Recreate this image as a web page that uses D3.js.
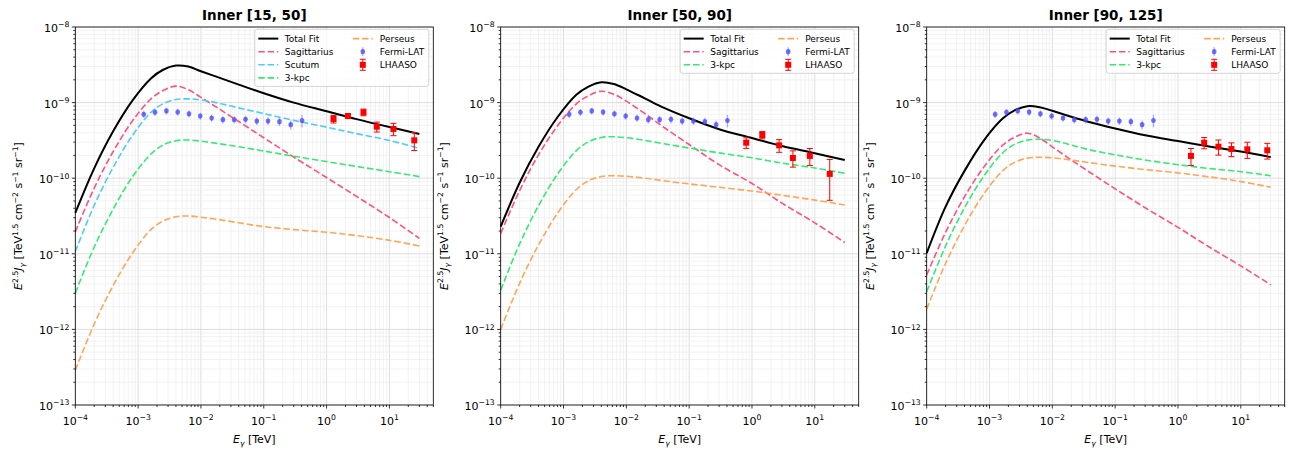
<!DOCTYPE html>
<html><head><meta charset="utf-8">
<script src="https://cdn.jsdelivr.net/npm/d3@7"></script>
<style>body{margin:0;background:#fff} svg{display:block} text{font-family:"DejaVu Sans",sans-serif;fill:#000}</style>
</head><body><svg id="c" width="1295" height="455"></svg>
<script>
// ---------------- DATA ----------------
const panelTitles = ["Inner [15, 50]", "Inner [50, 90]", "Inner [90, 125]"];
const xTickExps = [-4, -3, -2, -1, 0, 1];
const yTickExps = [-13, -12, -11, -10, -9, -8];

// model energy grid [TeV]
const modelEnergy = [1e-4, 2e-4, 4e-4, 8e-4, 1.6e-3, 2.5e-3, 4e-3, 6.3e-3, 1e-2, 2e-2, 4e-2, 0.1, 0.3, 1, 3, 10, 30];

// Panel 1 : Inner [15, 50]
const p1Total    = [3.47e-11, 1.35e-10, 4.17e-10, 1.047e-9, 2.09e-9, 2.72e-9, 3.09e-9, 3.0e-9, 2.60e-9, 2.12e-9, 1.73e-9, 1.33e-9, 1.0e-9, 7.7e-10, 6.05e-10, 4.75e-10, 3.85e-10];
const p1Sgr      = [1.95e-11, 7.41e-11, 2.24e-10, 5.62e-10, 1.12e-9, 1.445e-9, 1.65e-9, 1.48e-9, 1.175e-9, 8.13e-10, 5.62e-10, 3.43e-10, 1.905e-10, 1.02e-10, 5.75e-11, 3.02e-11, 1.60e-11];
const p1Scutum   = [1.07e-11, 4.37e-11, 1.39e-10, 3.61e-10, 7.41e-10, 9.66e-10, 1.10e-9, 1.12e-9, 1.084e-9, 9.77e-10, 8.51e-10, 7.16e-10, 5.82e-10, 4.73e-10, 3.89e-10, 3.16e-10, 2.48e-10];
const p1Kpc      = [3.02e-12, 1.23e-11, 3.89e-11, 1.023e-10, 2.09e-10, 2.75e-10, 3.13e-10, 3.20e-10, 3.09e-10, 2.85e-10, 2.60e-10, 2.29e-10, 1.95e-10, 1.66e-10, 1.43e-10, 1.22e-10, 1.05e-10];
const p1Perseus  = [2.88e-13, 1.175e-12, 3.80e-12, 1.0e-11, 2.09e-11, 2.71e-11, 3.09e-11, 3.16e-11, 3.05e-11, 2.82e-11, 2.57e-11, 2.29e-11, 2.09e-11, 1.93e-11, 1.74e-11, 1.51e-11, 1.27e-11];

// Panel 2 : Inner [50, 90]
const p2Total    = [2.29e-11, 8.7e-11, 2.6e-10, 6.4e-10, 1.27e-9, 1.63e-9, 1.86e-9, 1.76e-9, 1.5e-9, 1.13e-9, 8.5e-10, 6.2e-10, 4.45e-10, 3.4e-10, 2.66e-10, 2.14e-10, 1.74e-10];
const p2Sgr      = [1.86e-11, 6.84e-11, 2.04e-10, 4.90e-10, 9.64e-10, 1.233e-9, 1.413e-9, 1.288e-9, 1.047e-9, 7.08e-10, 4.68e-10, 2.79e-10, 1.51e-10, 8.51e-11, 4.68e-11, 2.57e-11, 1.41e-11];
const p2Kpc      = [3.31e-12, 1.35e-11, 4.33e-11, 1.127e-10, 2.32e-10, 3.03e-10, 3.46e-10, 3.53e-10, 3.43e-10, 3.16e-10, 2.85e-10, 2.51e-10, 2.16e-10, 1.86e-10, 1.585e-10, 1.365e-10, 1.16e-10];
const p2Perseus  = [1.0e-12, 4.07e-12, 1.31e-11, 3.43e-11, 7.08e-11, 9.25e-11, 1.054e-10, 1.08e-10, 1.06e-10, 1.0e-10, 9.23e-11, 8.41e-11, 7.59e-11, 6.76e-11, 5.96e-11, 5.13e-11, 4.43e-11];

// Panel 3 : Inner [90, 125]
const p3Total    = [1.02e-11, 4.2e-11, 1.25e-10, 3.1e-10, 6.1e-10, 7.9e-10, 8.98e-10, 8.7e-10, 7.8e-10, 6.5e-10, 5.5e-10, 4.55e-10, 3.7e-10, 3.1e-10, 2.65e-10, 2.25e-10, 1.9e-10];
const p3Sgr      = [5.25e-12, 1.93e-11, 5.69e-11, 1.38e-10, 2.71e-10, 3.47e-10, 3.94e-10, 3.39e-10, 2.60e-10, 1.74e-10, 1.19e-10, 7.24e-11, 4.07e-11, 2.24e-11, 1.26e-11, 6.92e-12, 3.89e-12];
const p3Kpc      = [3.16e-12, 1.27e-11, 4.06e-11, 1.047e-10, 2.14e-10, 2.80e-10, 3.19e-10, 3.27e-10, 3.16e-10, 2.75e-10, 2.37e-10, 2.04e-10, 1.74e-10, 1.51e-10, 1.35e-10, 1.22e-10, 1.08e-10];
const p3Perseus  = [1.86e-12, 7.45e-12, 2.36e-11, 6.08e-11, 1.245e-10, 1.62e-10, 1.845e-10, 1.89e-10, 1.86e-10, 1.74e-10, 1.60e-10, 1.445e-10, 1.30e-10, 1.175e-10, 1.047e-10, 9.02e-11, 7.59e-11];

// Fermi-LAT (same in all panels)
const fermiEnergy = [1.23e-3, 1.86e-3, 2.82e-3, 4.27e-3, 6.46e-3, 9.77e-3, 1.48e-2, 2.24e-2, 3.39e-2, 5.13e-2, 7.76e-2, 0.117, 0.178, 0.269, 0.407];
const fermiFlux   = [7.0e-10, 7.45e-10, 7.75e-10, 7.5e-10, 7.1e-10, 6.65e-10, 6.25e-10, 5.95e-10, 5.95e-10, 6.0e-10, 5.7e-10, 5.7e-10, 5.6e-10, 5.1e-10, 5.8e-10];
const fermiErr    = [0.75e-10, 0.8e-10, 0.8e-10, 0.8e-10, 0.75e-10, 0.7e-10, 0.65e-10, 0.65e-10, 0.65e-10, 0.7e-10, 0.65e-10, 0.65e-10, 0.7e-10, 0.7e-10, 1.1e-10];

// LHAASO
const p1LhaasoEnergy = [1.29, 2.19, 3.87, 6.3, 11.6, 24.9];
const p1LhaasoFlux   = [6.07e-10, 6.65e-10, 7.45e-10, 4.8e-10, 4.48e-10, 3.17e-10];
const p1LhaasoErr    = [0.7e-10, 0.5e-10, 0.75e-10, 0.72e-10, 0.83e-10, 0.85e-10];
const p2LhaasoEnergy = [0.81, 1.46, 2.71, 4.48, 8.34, 17.3];
const p2LhaasoFlux   = [2.95e-10, 3.73e-10, 2.72e-10, 1.85e-10, 1.97e-10, 1.14e-10];
const p2LhaasoErr    = [0.47e-10, 0.41e-10, 0.52e-10, 0.45e-10, 0.5e-10, 0.63e-10];
const p3LhaasoEnergy = [1.61, 2.61, 4.41, 7.10, 12.7, 26.4];
const p3LhaasoFlux   = [1.97e-10, 2.95e-10, 2.61e-10, 2.43e-10, 2.41e-10, 2.34e-10];
const p3LhaasoErr    = [0.5e-10, 0.5e-10, 0.59e-10, 0.5e-10, 0.58e-10, 0.55e-10];

// ---------------- STYLE / LAYOUT ----------------
const styles = {
  "Total Fit":   {color: "#000000", width: 2.0, dash: null},
  "Sagittarius": {color: "#ff5080", width: 1.6, dash: "6.5,2.8"},
  "Scutum":      {color: "#4fcbfa", width: 1.6, dash: "6.5,2.8"},
  "3-kpc":       {color: "#33ea72", width: 1.6, dash: "6.5,2.8"},
  "Perseus":     {color: "#ffa655", width: 1.6, dash: "6.5,2.8"}
};
const fermiColor = "#4b4bff", lhaasoColor = "#ff0000";

const panels = [
  {title: panelTitles[0], curves: [["Total Fit", p1Total], ["Sagittarius", p1Sgr], ["Scutum", p1Scutum], ["3-kpc", p1Kpc], ["Perseus", p1Perseus]],
   lE: p1LhaasoEnergy, lF: p1LhaasoFlux, lS: p1LhaasoErr},
  {title: panelTitles[1], curves: [["Total Fit", p2Total], ["Sagittarius", p2Sgr], ["3-kpc", p2Kpc], ["Perseus", p2Perseus]],
   lE: p2LhaasoEnergy, lF: p2LhaasoFlux, lS: p2LhaasoErr},
  {title: panelTitles[2], curves: [["Total Fit", p3Total], ["Sagittarius", p3Sgr], ["3-kpc", p3Kpc], ["Perseus", p3Perseus]],
   lE: p3LhaasoEnergy, lF: p3LhaasoFlux, lS: p3LhaasoErr}
];

const panelLeft = [75.3, 500.7, 926.7], panelTop = 27, panelW = 358, panelH = 378;
const svg = d3.select("#c");
const x = d3.scaleLog().domain([1e-4, 50]).range([0, panelW]);
const y = d3.scaleLog().domain([1e-13, 1e-8]).range([panelH, 0]);

function rich(sel, segs, base) {
  let cur = 0;
  segs.forEach(s => {
    const k = s[1] || "n";
    const target = k === "sup" ? -base * 0.42 : k === "sub" ? base * 0.25 : 0;
    const ts = sel.append("tspan").attr("dy", (target - cur).toFixed(2)).text(s[0]);
    if (k !== "n") ts.attr("font-size", (base * 0.7).toFixed(2));
    if (s[2]) ts.attr("font-style", "italic");
    cur = target;
  });
}

panels.forEach((p, pi) => {
  const g = svg.append("g").attr("transform", `translate(${panelLeft[pi]},${panelTop})`);

  // grid
  const gx = [], gy = [];
  for (let e = -4; e <= 1; e++) for (let m = 1; m <= 9; m++) { const v = m * Math.pow(10, e); if (v <= 50) gx.push([v, m === 1]); }
  for (let e = -13; e <= -9; e++) for (let m = 1; m <= 9; m++) gy.push([m * Math.pow(10, e), m === 1]);
  gy.push([1e-8, true]);
  const grid = g.append("g");
  gx.forEach(([v, maj]) => grid.append("line").attr("x1", x(v)).attr("x2", x(v)).attr("y1", 0).attr("y2", panelH)
    .attr("stroke", maj ? "#d6d6d6" : "#ececec").attr("stroke-width", maj ? 0.8 : 0.7));
  gy.forEach(([v, maj]) => grid.append("line").attr("y1", y(v)).attr("y2", y(v)).attr("x1", 0).attr("x2", panelW)
    .attr("stroke", maj ? "#d6d6d6" : "#ececec").attr("stroke-width", maj ? 0.8 : 0.7));

  // curves
  const line = d3.line().x(d => x(d[0])).y(d => y(d[1])).curve(d3.curveCatmullRom.alpha(0.5));
  const order = p.curves.slice(1).concat([p.curves[0]]);
  order.forEach(([name, vals]) => {
    const st = styles[name];
    g.append("path").datum(modelEnergy.map((e, i) => [e, vals[i]]))
      .attr("d", line).attr("fill", "none").attr("stroke", st.color)
      .attr("stroke-width", st.width).attr("stroke-dasharray", st.dash)
      .attr("stroke-linejoin", "round");
  });

  // Fermi-LAT
  const fg = g.append("g");
  fermiEnergy.forEach((e, i) => {
    fg.append("line").attr("x1", x(e)).attr("x2", x(e))
      .attr("y1", y(fermiFlux[i] - fermiErr[i])).attr("y2", y(fermiFlux[i] + fermiErr[i]))
      .attr("stroke", fermiColor).attr("stroke-opacity", 0.45).attr("stroke-width", 1.3);
    fg.append("ellipse").attr("cx", x(e)).attr("cy", y(fermiFlux[i])).attr("rx", 2.3).attr("ry", 2.6)
      .attr("fill", fermiColor).attr("fill-opacity", 0.8);
  });

  // LHAASO
  const lg = g.append("g");
  p.lE.forEach((e, i) => {
    const cx = x(e), y1 = y(p.lF[i] - p.lS[i]), y2 = y(p.lF[i] + p.lS[i]);
    lg.append("line").attr("x1", cx).attr("x2", cx).attr("y1", y1).attr("y2", y2).attr("stroke", lhaasoColor).attr("stroke-width", 1);
    [y1, y2].forEach(yy => lg.append("line").attr("x1", cx - 3).attr("x2", cx + 3).attr("y1", yy).attr("y2", yy).attr("stroke", lhaasoColor).attr("stroke-width", 1));
    lg.append("rect").attr("x", cx - 3).attr("y", y(p.lF[i]) - 3).attr("width", 6).attr("height", 6).attr("fill", lhaasoColor);
  });

  // spines
  g.append("rect").attr("x", 0).attr("y", 0).attr("width", panelW).attr("height", panelH)
    .attr("fill", "none").attr("stroke", "#000").attr("stroke-width", 0.8);

  // ticks
  const tk = g.append("g").attr("stroke", "#000").attr("stroke-width", 0.8);
  gx.forEach(([v, maj]) => tk.append("line").attr("x1", x(v)).attr("x2", x(v)).attr("y1", panelH).attr("y2", panelH + (maj ? 3.5 : 2)));
  gy.forEach(([v, maj]) => tk.append("line").attr("y1", y(v)).attr("y2", y(v)).attr("x1", 0).attr("x2", maj ? -3.5 : -2));

  xTickExps.forEach(ex => {
    const t = g.append("text").attr("x", x(Math.pow(10, ex))).attr("y", panelH + 20).attr("text-anchor", "middle").attr("font-size", 11);
    rich(t, [["10"], ["\u2212".repeat(ex < 0 ? 1 : 0) + Math.abs(ex), "sup"]], 11);
  });
  yTickExps.forEach(ex => {
    const t = g.append("text").attr("x", -6).attr("y", y(Math.pow(10, ex)) + 5).attr("text-anchor", "end").attr("font-size", 11);
    rich(t, [["10"], ["\u2212" + Math.abs(ex), "sup"]], 11);
  });

  // title
  g.append("text").attr("x", panelW / 2).attr("y", -7).attr("text-anchor", "middle")
    .attr("font-size", 13.5).attr("font-weight", "bold").text(p.title);

  // x label
  const xl = g.append("text").attr("x", panelW / 2).attr("y", panelH + 38).attr("text-anchor", "middle").attr("font-size", 11);
  rich(xl, [["E", "n", true], ["\u03b3", "sub", true], [" [TeV]"]], 11);

  // y label
  const yl = g.append("text").attr("transform", `translate(${-53},${panelH / 2}) rotate(-90)`).attr("text-anchor", "middle").attr("font-size", 11);
  rich(yl, [["E", "n", true], ["2.5", "sup"], ["J", "n", true], ["\u03b3", "sub", true], [" [TeV"], ["1.5", "sup"], [" cm"], ["\u22122", "sup"], [" s"], ["\u22121", "sup"], [" sr"], ["\u22121", "sup"], ["]"]], 11);

  // legend
  const items = p.curves.map(c => ({name: c[0], type: "line"})).concat([{name: "Fermi-LAT", type: "fermi"}, {name: "LHAASO", type: "lhaaso"}]);
  const nRows = Math.ceil(items.length / 2);
  const bw = 174, bx = panelW - 4.5 - bw, by = 2.3, rowH = 13.1;
  const bh = 9.2 + (nRows - 1) * rowH + 8.6;
  const leg = g.append("g").attr("transform", `translate(${bx},${by})`);
  leg.append("rect").attr("width", bw).attr("height", bh).attr("rx", 2.5)
    .attr("fill", "#fff").attr("fill-opacity", 0.8).attr("stroke", "#cccccc").attr("stroke-width", 0.8);
  items.forEach((it, i) => {
    const col = Math.floor(i / nRows), row = i % nRows;
    const hx = col === 0 ? 3.5 : 98, tx = col === 0 ? 30 : 125, cy = 9.3 + row * rowH;
    if (it.type === "line") {
      const st = styles[it.name];
      leg.append("line").attr("x1", hx).attr("x2", hx + 20).attr("y1", cy).attr("y2", cy)
        .attr("stroke", st.color).attr("stroke-width", st.width).attr("stroke-dasharray", st.dash);
    } else if (it.type === "fermi") {
      const cx = hx + 10;
      leg.append("line").attr("x1", cx).attr("x2", cx).attr("y1", cy - 4.5).attr("y2", cy + 4.5).attr("stroke", fermiColor).attr("stroke-opacity", 0.45).attr("stroke-width", 1.3);
      leg.append("ellipse").attr("cx", cx).attr("cy", cy).attr("rx", 2.3).attr("ry", 2.6).attr("fill", fermiColor).attr("fill-opacity", 0.8);
    } else {
      const cx = hx + 10;
      leg.append("line").attr("x1", cx).attr("x2", cx).attr("y1", cy - 5.5).attr("y2", cy + 5.5).attr("stroke", lhaasoColor);
      [cy - 5.5, cy + 5.5].forEach(yy => leg.append("line").attr("x1", cx - 3).attr("x2", cx + 3).attr("y1", yy).attr("y2", yy).attr("stroke", lhaasoColor));
      leg.append("rect").attr("x", cx - 3).attr("y", cy - 3).attr("width", 6).attr("height", 6).attr("fill", lhaasoColor);
    }
    leg.append("text").attr("x", tx).attr("y", cy + 3.2).attr("font-size", 9).text(it.name);
  });
});
</script></body></html>
